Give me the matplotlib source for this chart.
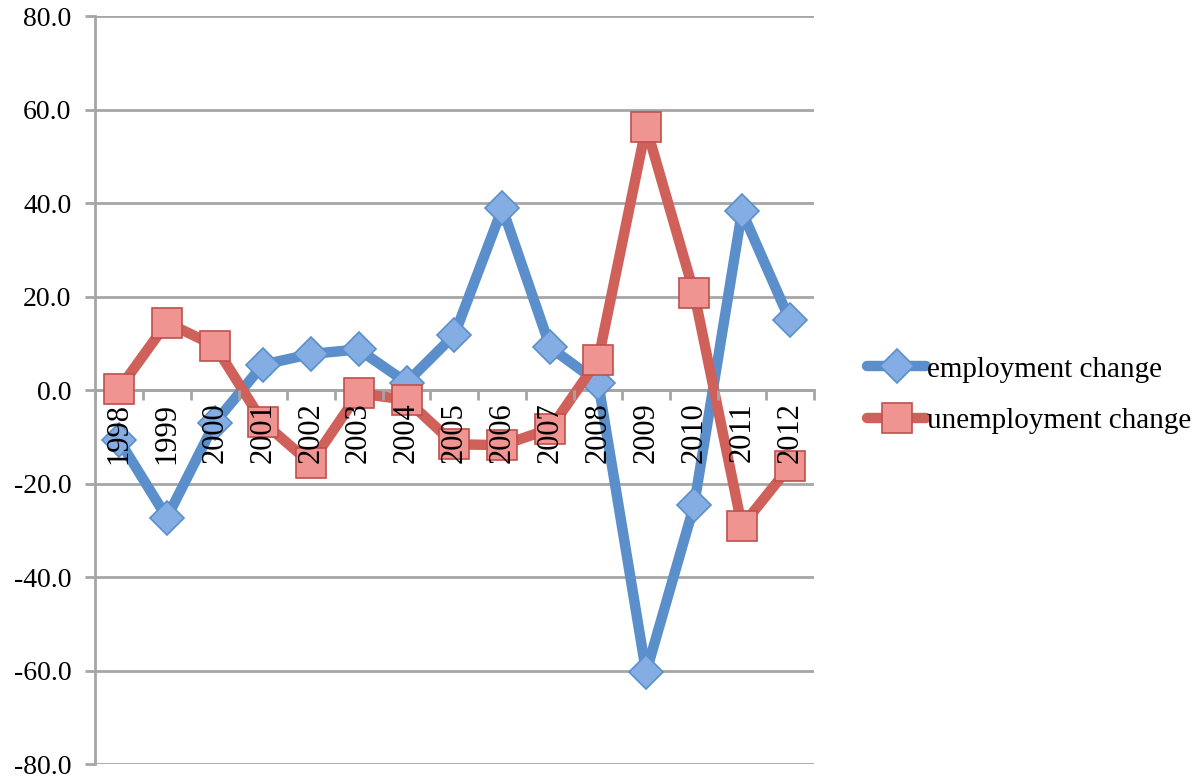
import numpy as np
import matplotlib
matplotlib.use('Agg')
import matplotlib.pyplot as plt

years = ['1998', '1999', '2000', '2001', '2002', '2003', '2004', '2005',
         '2006', '2007', '2008', '2009', '2010', '2011', '2012']
employment = [-10.7, -27.3, -7.0, 5.4, 7.7, 8.7, 1.6, 11.8,
              38.9, 9.1, 1.6, -60.4, -24.7, 38.2, 14.9]
unemployment = [0.2, 14.4, 9.5, -6.8, -15.7, -0.7, -2.1, -11.6,
                -11.8, -8.3, 6.5, 56.3, 20.8, -29.1, -16.3]
yticks = [-80, -60, -40, -20, 0, 20, 40, 60, 80]

plt.rcParams['font.family'] = ['Liberation Serif', 'DejaVu Serif']

fig = plt.figure(figsize=(12, 7.82), dpi=100)
ax = fig.add_axes([0.0792, 0.023, 0.599, 0.9565])

# spine position first: moving it resets the tick setup
for s in ['top', 'right']:
    ax.spines[s].set_visible(False)
ax.spines['bottom'].set_position(('data', 0))
ax.spines['bottom'].set_color('#a6a6a6')
ax.spines['bottom'].set_linewidth(2)
ax.spines['bottom'].set_zorder(0.6)
ax.spines['left'].set_color('#a6a6a6')
ax.spines['left'].set_linewidth(2)

x = np.arange(len(years))
blue, blue_fill = '#5a8fcc', '#84aee3'
red, red_fill = '#d0605a', '#ef9490'

ax.plot(x, employment, color=blue, lw=7.5, marker='D', ms=17,
        mfc=blue_fill, mec=blue, mew=1.2, solid_joinstyle='round',
        solid_capstyle='round', zorder=2, label='employment change')
ax.plot(x, unemployment, color=red, lw=7.5, marker='s', ms=21,
        mfc=red_fill, mec='#c0504d', mew=1.2, solid_joinstyle='round',
        solid_capstyle='round', zorder=2.1, label='unemployment change')

# gridlines drawn by hand so tick labels can sit above the lines
for v in yticks:
    ax.axhline(v, color='#a6a6a6', lw=2, zorder=0.5)
ax.set_axisbelow(False)

ax.set_xlim(-0.5, len(years) - 0.5)
ax.set_ylim(-80, 80)
ax.set_yticks(yticks)
ax.set_yticklabels([f'{v:.1f}' for v in yticks], fontsize=20)
ax.tick_params(axis='y', length=7, width=2, color='#a6a6a6', pad=10)

ax.set_xticks(x)
ax.set_xticklabels(years, rotation=90, fontsize=22, va='top')
ax.set_xticks(np.arange(len(years) + 1) - 0.5, minor=True)
ax.tick_params(axis='x', which='major', length=0, pad=9)
ax.tick_params(axis='x', which='minor', length=7, width=2, color='#a6a6a6')

fig.legend(loc='center left', bbox_to_anchor=(0.701, 0.495), frameon=False,
           fontsize=21, handlelength=2.0, handletextpad=0.05, labelspacing=0.85)

fig.savefig('out.png', dpi=100)
